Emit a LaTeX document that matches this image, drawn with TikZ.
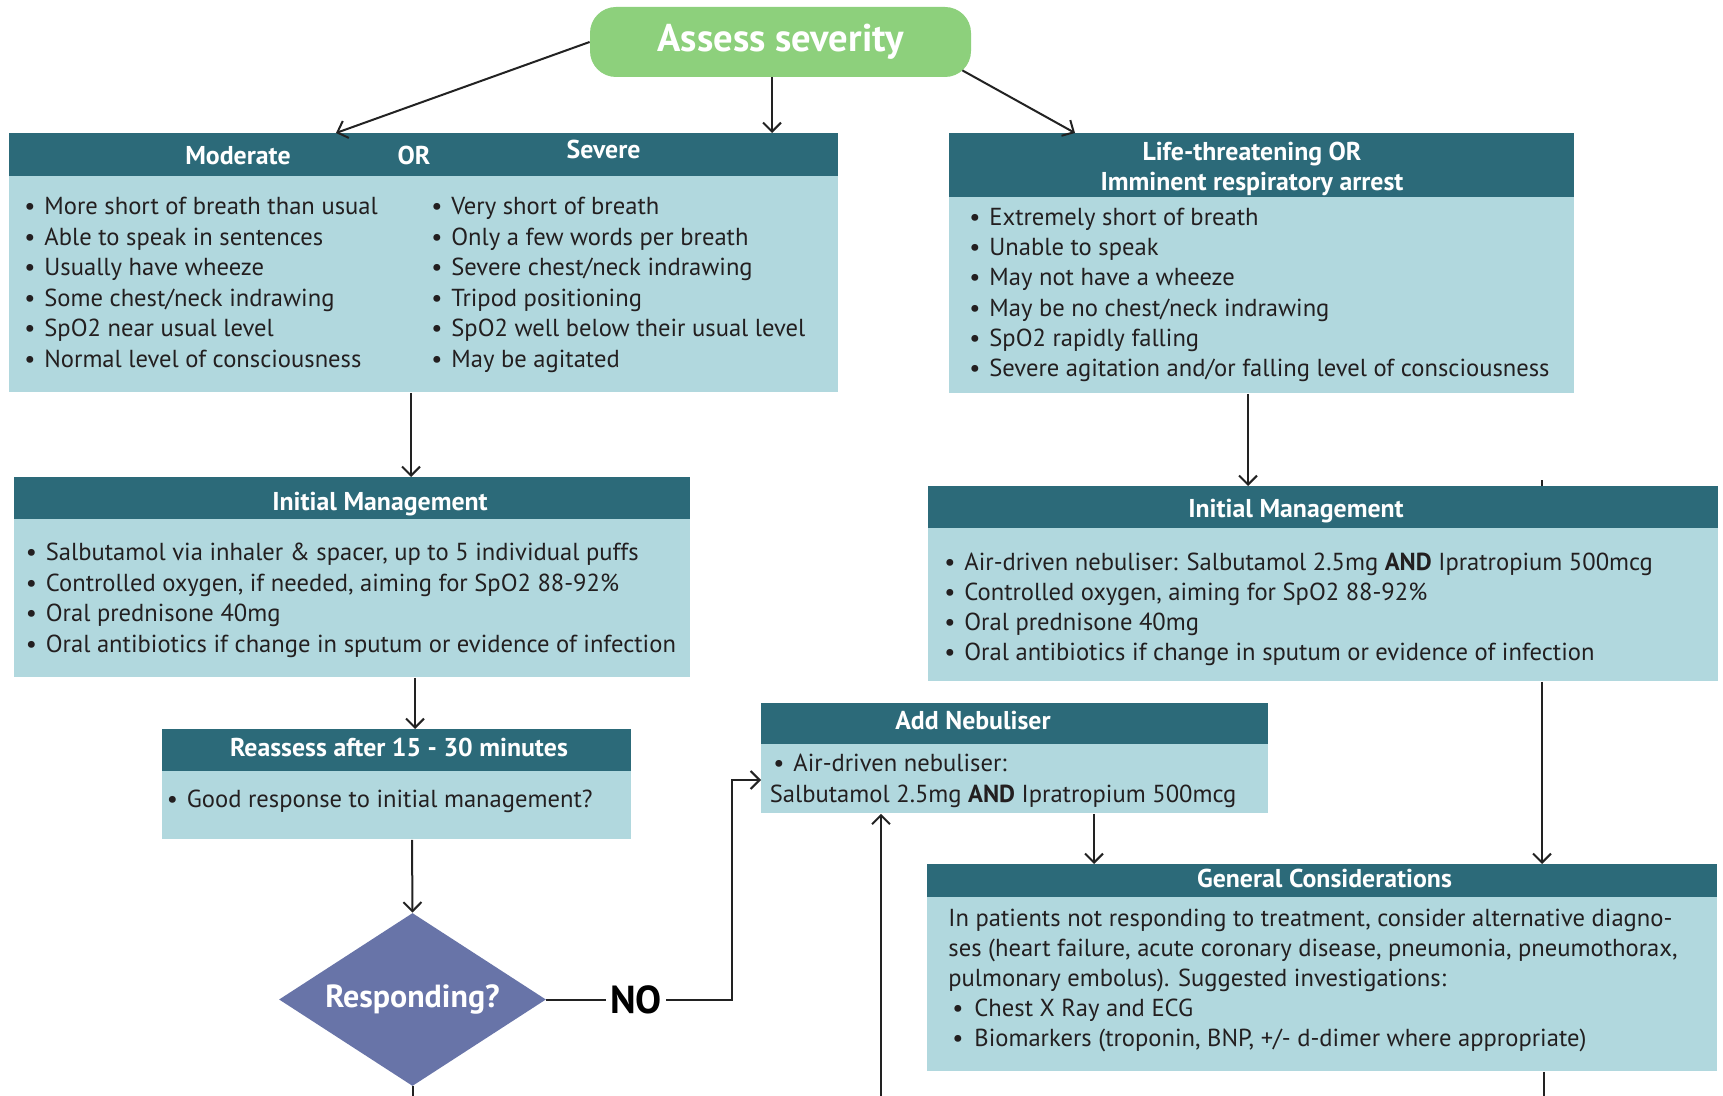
\documentclass[tikz,border=0pt]{standalone}
\usepackage{fontspec}
\setmainfont{PT Sans}
\usetikzlibrary{arrows.meta,shapes.geometric,calc}
\definecolor{headc}{HTML}{2C6A79}
\definecolor{bodyc}{HTML}{B1D8DE}
\definecolor{greenc}{HTML}{8DD07C}
\definecolor{diac}{HTML}{6874A8}
\definecolor{inkc}{HTML}{231F20}
\definecolor{linec}{HTML}{222222}
\newcommand{\bl}{\strut\makebox[10pt][l]{\textbullet}}
\begin{document}
\begin{tikzpicture}[x=0.5pt,y=-0.5pt,
  bodybox/.style={fill=bodyc, draw=none, inner sep=0, anchor=north west},
  headbox/.style={fill=headc, draw=none, inner sep=0, anchor=north west},
  headtext/.style={inner sep=0, anchor=base, text=white, font=\fontsize{12.9}{15}\selectfont\bfseries},
  bodytext/.style={inner sep=0, anchor=north west, align=left, text=inkc, font=\fontsize{12.3}{#1}\selectfont},
  bodytext/.default=15.3,
  arr/.style={draw=linec, line width=1pt, -{Straight Barb[length=4.5pt,width=9pt]}},
  ln/.style={draw=linec, line width=1pt},
]
\useasboundingbox[fill=white] (0,0) rectangle (1723,1096);

% helper coordinates
\coordinate (bottom) at (0,1096);
\foreach \xx in {336,411,415,412,732,772,881,1075,1094,1248,1542,1544}{\coordinate (x\xx) at (\xx,0);}
\coordinate (y780) at (0,780);

% Assess severity
\node[fill=greenc, rounded corners=13pt, minimum width=190.5pt, minimum height=35pt, inner sep=0,
      text=white, font=\fontsize{19.3}{22}\selectfont\bfseries] (assess) at (780.5,42) {Assess severity};

% Moderate / Severe box
\node[bodybox, minimum width=414.5pt, minimum height=129.5pt] (sev) at (9,133) {};
\node[headbox, minimum width=414.5pt, minimum height=21.5pt] (sevh) at (9,133) {};
\node[headtext] (tmod) at (238,165) {Moderate};
\node[headtext] (tor) at (414,165) {OR};
\node[headtext] (tsev) at (603.5,159) {Severe};
\node[bodytext] (modl) at (24,192.6) {\bl More short of breath than usual\\ \bl Able to speak in sentences\\ \bl Usually have wheeze\\ \bl Some chest/neck indrawing\\ \bl SpO2 near usual level\\ \bl Normal level of consciousness};
\node[bodytext] (sevl) at (431,192.6) {\bl Very short of breath\\ \bl Only a few words per breath\\ \bl Severe chest/neck indrawing\\ \bl Tripod positioning\\ \bl SpO2 well below their usual level\\ \bl May be agitated};

% Life-threatening box
\node[bodybox, minimum width=312.5pt, minimum height=130pt] (life) at (949,133) {};
\node[headbox, minimum width=312.5pt, minimum height=32pt] (lifeh) at (949,133) {};
\node[headtext] (tlife1) at (1252,161) {Life-threatening OR};
\node[headtext] (tlife2) at (1252,191) {Imminent respiratory arrest};
\node[bodytext=15.1] (lifel) at (969,204) {\bl Extremely short of breath\\ \bl Unable to speak\\ \bl May not have a wheeze\\ \bl May be no chest/neck indrawing\\ \bl SpO2 rapidly falling\\ \bl Severe agitation and/or falling level of consciousness};

% Initial management left
\node[bodybox, minimum width=338pt, minimum height=100pt] (iml) at (14,477) {};
\node[headbox, minimum width=338pt, minimum height=21pt] (imlh) at (14,477) {};
\node[headtext] (timl) at (380,510) {Initial Management};
\node[bodytext] (imll) at (25.5,538.6) {\bl Salbutamol via inhaler \& spacer, up to 5 individual puffs\\ \bl Controlled oxygen, if needed, aiming for SpO2 88-92\%\\ \bl Oral prednisone 40mg\\ \bl Oral antibiotics if change in sputum or evidence of infection};

% Initial management right
\node[bodybox, minimum width=395pt, minimum height=97.5pt] (imr) at (928,486) {};
\node[headbox, minimum width=395pt, minimum height=21pt] (imrh) at (928,486) {};
\node[headtext] (timr) at (1296,517) {Initial Management};
\node[bodytext=15] (imrl) at (944,548.6) {\bl Air-driven nebuliser: Salbutamol 2.5mg \textbf{AND} Ipratropium 500mcg\\ \bl Controlled oxygen, aiming for SpO2 88-92\%\\ \bl Oral prednisone 40mg\\ \bl Oral antibiotics if change in sputum or evidence of infection};

% Reassess
\node[bodybox, minimum width=234.5pt, minimum height=55pt] (rea) at (162,729) {};
\node[headbox, minimum width=234.5pt, minimum height=21pt] (reah) at (162,729) {};
\node[headtext] (trea) at (399,756) {Reassess after 15 - 30 minutes};
\node[bodytext] (real) at (166.5,785.6) {\bl Good response to initial management?};

% Add nebuliser
\node[bodybox, minimum width=253.5pt, minimum height=55pt] (neb) at (761,703) {};
\node[headbox, minimum width=253.5pt, minimum height=20.5pt] (nebh) at (761,703) {};
\node[headtext] (tneb) at (973,729) {Add Nebuliser};
\node[bodytext=15.5] (nebl) at (769.5,749.3) {\hspace*{1.75pt}\bl Air-driven nebuliser:\\ \strut Salbutamol 2.5mg \textbf{AND} Ipratropium 500mcg};

% General considerations
\node[bodybox, minimum width=395pt, minimum height=103.5pt] (gen) at (927,864) {};
\node[headbox, minimum width=395pt, minimum height=16.5pt] (genh) at (927,864) {};
\node[headtext] (tgen) at (1324.5,887) {General Considerations};
\node[bodytext=15.1] (genl) at (948,904.6) {\strut In patients not responding to treatment, consider alternative diagno-\\ \strut ses (heart failure, acute coronary disease, pneumonia, pneumothorax,\\ \strut pulmonary embolus). Suggested investigations:\\ \hspace*{2pt}\strut\makebox[11pt][l]{\textbullet}Chest X Ray and ECG\\ \hspace*{2pt}\strut\makebox[11pt][l]{\textbullet}Biomarkers (troponin, BNP, +/- d-dimer where appropriate)};

% Decision
\node[diamond, aspect=1.54, fill=diac, minimum width=133.5pt, minimum height=86.5pt, inner sep=0,
      text=white, font=\fontsize{16}{19}\selectfont\bfseries] (resp) at (412.5,999.5) {Responding?};
\node[inner sep=2pt, text=black, font=\fontsize{19.5}{22}\selectfont\bfseries] (no) at (636,999.5) {NO};

% Connectors
\draw[arr] (assess.west) -- (sev.north -| x336);
\draw[arr] (assess.south -| x772) -- (sev.north -| x772);
\draw[arr] ($(assess.south east)+(-9,-7)$) -- (life.north -| x1075);
\draw[arr] (sev.south -| x411) -- (iml.north -| x411);
\draw[arr] (life.south -| x1248) -- (imr.north -| x1248);
\draw[ln] (imr.north -| x1542) -- ++(0,-6);
\draw[arr] (iml.south -| x415) -- (rea.north -| x415);
\draw[arr] (rea.south -| x412) -- (resp.north);
\draw[ln] (resp.south) -- (resp.south |- bottom);
\draw[ln] (resp.east) -- (resp.east -| no.west);
\draw[arr] (no.east |- resp.east) -- (x732 |- resp.east) -- (x732 |- y780) -- (neb.west |- y780);
\draw[arr] (x881 |- bottom) -- (neb.south -| x881);
\draw[arr] (neb.south -| x1094) -- (gen.north -| x1094);
\draw[arr] (imr.south -| x1542) -- (gen.north -| x1542);
\draw[ln] (gen.south -| x1544) -- (x1544 |- bottom);
\end{tikzpicture}
\end{document}
